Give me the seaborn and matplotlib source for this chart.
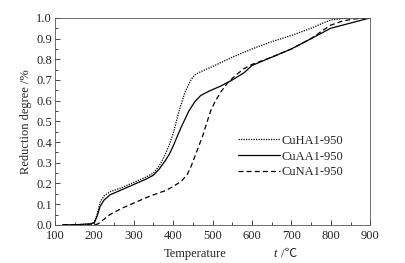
import numpy as np
import pandas as pd
import matplotlib
matplotlib.use('Agg')
import matplotlib.pyplot as plt
import seaborn as sns
from matplotlib.ticker import MultipleLocator

# temperature (deg C) and reduction degree
temp_ha = [120, 150, 190, 200, 207, 215, 225, 240, 270, 300, 330, 350, 365, 380, 390, 400, 415, 430, 445, 455, 470, 500, 550, 600, 650, 700, 750, 780, 800, 830, 860, 900]
red_ha = [0.0, 0.0, 0.005, 0.012, 0.05, 0.11, 0.14, 0.16, 0.18, 0.205, 0.23, 0.25, 0.285, 0.34, 0.385, 0.44, 0.55, 0.64, 0.7, 0.725, 0.74, 0.765, 0.81, 0.85, 0.885, 0.915, 0.95, 0.975, 0.99, 0.997, 1.0, 1.0]

temp_aa = [120, 150, 190, 200, 207, 215, 225, 240, 270, 300, 330, 350, 365, 380, 390, 400, 420, 440, 455, 470, 490, 520, 550, 580, 600, 650, 700, 730, 750, 780, 800, 850, 900]
red_aa = [0.0, 0.0, 0.005, 0.01, 0.04, 0.09, 0.12, 0.145, 0.17, 0.195, 0.22, 0.24, 0.27, 0.31, 0.34, 0.38, 0.47, 0.55, 0.595, 0.625, 0.645, 0.67, 0.7, 0.735, 0.77, 0.81, 0.85, 0.88, 0.9, 0.93, 0.95, 0.975, 1.0]

temp_na = [120, 150, 190, 200, 210, 220, 240, 270, 300, 330, 350, 380, 400, 420, 435, 445, 455, 465, 475, 485, 495, 505, 520, 540, 560, 580, 600, 650, 700, 750, 780, 800, 830, 860, 900]
red_na = [0.0, 0.0, 0.0, 0.0, 0.005, 0.02, 0.05, 0.08, 0.105, 0.13, 0.145, 0.165, 0.185, 0.21, 0.24, 0.28, 0.33, 0.38, 0.43, 0.49, 0.55, 0.59, 0.64, 0.69, 0.725, 0.755, 0.775, 0.81, 0.85, 0.9, 0.94, 0.965, 0.985, 0.995, 1.0]

names = ['CuHA1-950', 'CuAA1-950', 'CuNA1-950']

df = pd.concat([
    pd.DataFrame({'t': temp_ha, 'r': red_ha, 'sample': names[0]}),
    pd.DataFrame({'t': temp_aa, 'r': red_aa, 'sample': names[1]}),
    pd.DataFrame({'t': temp_na, 'r': red_na, 'sample': names[2]}),
])

sns.set_style('ticks')
plt.rcParams['font.family'] = ['Liberation Serif', 'Noto Sans CJK SC', 'DejaVu Serif']
plt.rcParams['font.size'] = 9

fig = plt.figure(figsize=(4.06, 2.63), dpi=100)
ax = fig.add_axes([0.135, 0.145, 0.777, 0.787])

sns.lineplot(data=df, x='t', y='r', hue='sample', style='sample',
             palette=['black'] * 3, hue_order=names, style_order=names,
             dashes={names[0]: (1, 1), names[1]: '', names[2]: (4, 2.5)},
             linewidth=0.9, ax=ax, sort=False)

ax.set_xlim(100, 900)
ax.set_ylim(0, 1.0)
ax.xaxis.set_major_locator(MultipleLocator(100))
ax.xaxis.set_minor_locator(MultipleLocator(50))
ax.yaxis.set_major_locator(MultipleLocator(0.1))
ax.yaxis.set_minor_locator(MultipleLocator(0.05))
ax.yaxis.set_major_formatter(matplotlib.ticker.FormatStrFormatter('%.1f'))
ax.tick_params(which='both', direction='in', top=False, right=False, labelsize=9)
ax.tick_params(which='major', length=3.5, width=0.6)
ax.tick_params(which='minor', length=2, width=0.6)
ax.tick_params(axis='x', pad=4)
ax.tick_params(axis='y', pad=2)
# lift the bottom y label a little, like the reference
ax.get_yticklabels()[0].set_va('bottom')
for s in ax.spines.values():
    s.set_linewidth(0.6)
    s.set_color('#555555')

# x label built from pieces: plain word, italic t, unit
ax.set_xlabel('')
ax.text(0.444, -0.11, 'Temperature', transform=ax.transAxes, ha='center', va='top', fontsize=9)
ax.text(0.698, -0.11, 't', transform=ax.transAxes, ha='center', va='top', fontsize=9, style='italic')
ax.text(0.708, -0.11, ' /\u2103', transform=ax.transAxes, ha='left', va='top', fontsize=9,
        family=['Liberation Serif', 'Noto Sans CJK SC'])
ax.set_ylabel('Reduction degree /%', fontsize=9, labelpad=3)

leg = ax.legend(loc='center left', bbox_to_anchor=(0.545, 0.33), frameon=False,
                fontsize=9, handlelength=3.4, handletextpad=0.1, labelspacing=0.3)
for h in leg.get_lines():
    h.set_linewidth(0.9)

fig.savefig('out.png', dpi=100)
